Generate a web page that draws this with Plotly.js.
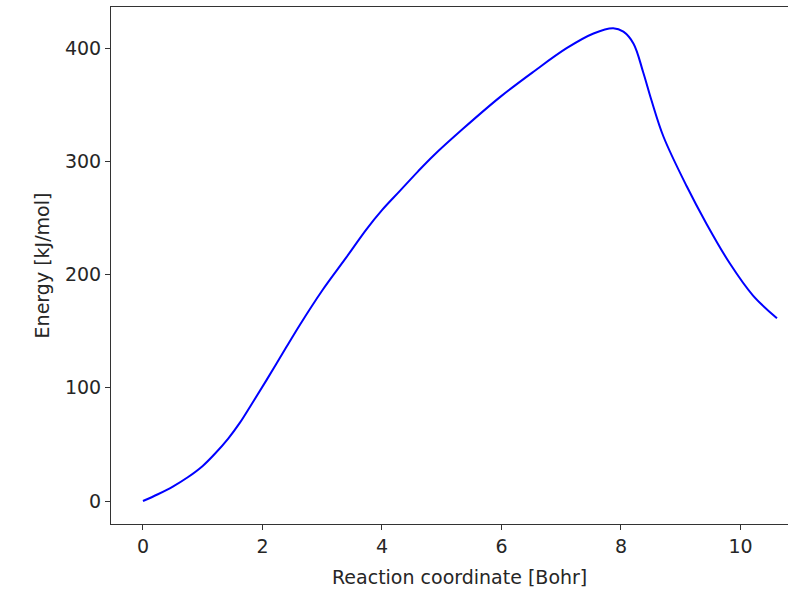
<!DOCTYPE html>
<html>
<head>
<meta charset="utf-8">
<script src="https://cdn.plot.ly/plotly-3.0.1.min.js"></script>
<style>html,body{margin:0;padding:0;background:#fff;}#chart{width:788px;height:590px;}</style>
</head>
<body>
<div id="chart"></div>
<script>
const coord = [0, 0.25, 0.5, 0.75, 1.0, 1.2, 1.43, 1.62, 1.8, 2.07, 2.4, 2.63, 3.0, 3.4, 3.74, 4.0, 4.3, 4.6, 4.86, 5.36, 5.98, 6.53, 7.09, 7.54, 7.87, 8.04, 8.21, 8.37, 8.51, 8.71, 9.1, 9.43, 9.82, 10.21, 10.61];
const energy = [0, 6, 12.8, 21, 31, 41.5, 55.4, 69, 84, 107, 136, 156, 186, 215, 240, 257, 274, 291, 305, 329, 357, 379, 400, 413, 417.6, 414.6, 404, 379, 354, 322, 278, 245, 210, 181.5, 161.4];
const xTicks = [0, 2, 4, 6, 8, 10];
const yTicks = [0, 100, 200, 300, 400];
const xTitle = 'Reaction coordinate [Bohr]';
const yTitle = 'Energy [kJ/mol]';

const trace = {
  x: coord, y: energy, type: 'scatter', mode: 'lines',
  line: {color: '#0000ff', width: 2, shape: 'spline', smoothing: 1},
  hoverinfo: 'skip'
};
const font = {family: 'DejaVu Sans', size: 19, color: '#262626'};
const layout = {
  width: 788, height: 590,
  margin: {l: 111, r: 0, t: 7, b: 66},
  paper_bgcolor: '#fff', plot_bgcolor: '#fff',
  showlegend: false,
  font: font,
  xaxis: {
    range: [-0.535, 10.795], tickvals: xTicks, ticktext: xTicks.map(String),
    showgrid: false, zeroline: false,
    showline: true, mirror: true, linecolor: '#333', linewidth: 1,
    ticks: 'outside', ticklen: 5, tickwidth: 1, tickcolor: '#333',
    tickfont: font
  },
  yaxis: {
    range: [-20.3, 436.4], tickvals: yTicks, ticktext: yTicks.map(String),
    showgrid: false, zeroline: false,
    showline: true, mirror: false, linecolor: '#333', linewidth: 1,
    ticks: 'outside', ticklen: 5, tickwidth: 1, tickcolor: '#333',
    tickfont: font,
    title: {text: yTitle, font: font, standoff: 10}
  },
  annotations: [{
    text: xTitle, xref: 'paper', yref: 'paper', x: 0.5148, y: -0.1025,
    xanchor: 'center', yanchor: 'middle', showarrow: false, font: font
  }]
};
Plotly.newPlot('chart', [trace], layout, {staticPlot: true, displayModeBar: false});
</script>
</body>
</html>
